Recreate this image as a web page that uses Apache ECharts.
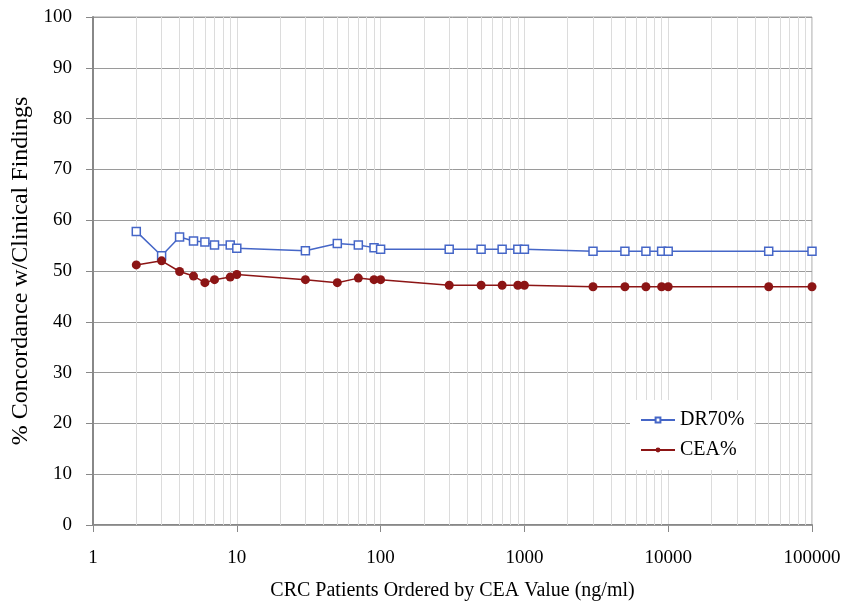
<!DOCTYPE html>
<html>
<head>
<meta charset="utf-8">
<script src="https://cdn.jsdelivr.net/npm/echarts@6/dist/echarts.min.js"></script>
<style>html,body{margin:0;padding:0;background:#fff}#c{width:843px;height:601px}</style>
</head>
<body>
<div id="c"></div>
<script>
// ---- data ----
const xValues = [2, 3, 4, 5, 6, 7, 9, 10, 30, 50, 70, 90, 100, 300, 500, 700, 900, 1000, 3000, 5000, 7000, 9000, 10000, 50000, 100000];
const dr70 = [57.8, 53.0, 56.7, 55.9, 55.7, 55.1, 55.1, 54.5, 54.0, 55.4, 55.1, 54.6, 54.3, 54.3, 54.3, 54.3, 54.3, 54.3, 53.9, 53.9, 53.9, 53.9, 53.9, 53.9, 53.9];
const cea = [51.2, 52.0, 49.9, 49.0, 47.7, 48.3, 48.8, 49.3, 48.3, 47.7, 48.6, 48.3, 48.3, 47.2, 47.2, 47.2, 47.2, 47.2, 46.9, 46.9, 46.9, 46.9, 46.9, 46.9, 46.9];
const seriesNames = ['DR70%', 'CEA%'];
const xTitle = 'CRC Patients Ordered by CEA Value (ng/ml)';
const yTitle = '% Concordance w/Clinical Findings';
const decades = [1, 10, 100, 1000, 10000];
const minorMultipliers = [2, 3, 4, 5, 6, 7, 8, 9];

const minorGrid = [];
decades.forEach(d => minorMultipliers.forEach(m => minorGrid.push({ xAxis: d * m })));

const FONT = '"Liberation Serif", "Times New Roman", serif';
const chart = echarts.init(document.getElementById('c'), null, { renderer: 'canvas' });
chart.setOption({
  animation: false,
  backgroundColor: '#fff',
  textStyle: { fontFamily: FONT, color: '#000' },
  grid: { left: 93, right: 31, top: 17, bottom: 76, containLabel: false, outerBoundsMode: 'none',
    show: true, borderColor: '#a0a0a0', borderWidth: 1 },
  legend: {
    orient: 'vertical', left: 630, top: 400, z: 10,
    backgroundColor: '#fff', padding: [10, 10, 10, 10],
    itemWidth: 34, itemHeight: 6, itemGap: 10,
    textStyle: { fontFamily: FONT, fontSize: 20, color: '#000' },
    data: seriesNames
  },
  xAxis: {
    type: 'log', logBase: 10, min: 1, max: 100000,
    name: xTitle, nameLocation: 'middle', nameGap: 56,
    nameTextStyle: { fontFamily: FONT, fontSize: 20, color: '#000' },
    axisLine: { show: true, lineStyle: { color: '#888', width: 2 } },
    axisTick: { show: true, inside: false, length: 7, lineStyle: { color: '#888', width: 1 } },
    axisLabel: { fontFamily: FONT, fontSize: 19, color: '#000', margin: 24, formatter: v => String(Math.round(v)) },
    splitLine: { show: true, lineStyle: { color: '#dcdcdc', width: 1 } }
  },
  yAxis: {
    type: 'value', min: 0, max: 100, interval: 10, z: 2,
    name: yTitle, nameLocation: 'middle', nameGap: 46,
    nameTextStyle: { fontFamily: FONT, fontSize: 24, color: '#000' },
    axisLine: { show: true, lineStyle: { color: '#888', width: 2 } },
    axisTick: { show: true, inside: false, length: 7, lineStyle: { color: '#888', width: 1 } },
    axisLabel: { fontFamily: FONT, fontSize: 19, color: '#000', margin: 21 },
    splitLine: { show: true, lineStyle: { color: '#9a9a9a', width: 1 } }
  },
  series: [
    {
      name: '_grid', type: 'line', data: [], z: 1, silent: true,
      markLine: { silent: true, symbol: 'none', label: { show: false }, animation: false,
        lineStyle: { color: '#dcdcdc', type: 'solid', width: 1 }, data: minorGrid }
    },
    {
      name: seriesNames[0], type: 'line', z: 5,
      data: xValues.map((x, i) => [x, dr70[i]]),
      symbol: 'rect', symbolSize: 8,
      lineStyle: { color: '#4566C7', width: 1.5 },
      itemStyle: { color: '#fff', borderColor: '#4566C7', borderWidth: 1.5 }
    },
    {
      name: seriesNames[1], type: 'line', z: 5,
      data: xValues.map((x, i) => [x, cea[i]]),
      symbol: 'circle', symbolSize: 9,
      lineStyle: { color: '#8C1515', width: 1.5 },
      itemStyle: { color: '#8C1515', borderColor: '#8C1515', borderWidth: 0 }
    }
  ]
});
</script>
</body>
</html>
